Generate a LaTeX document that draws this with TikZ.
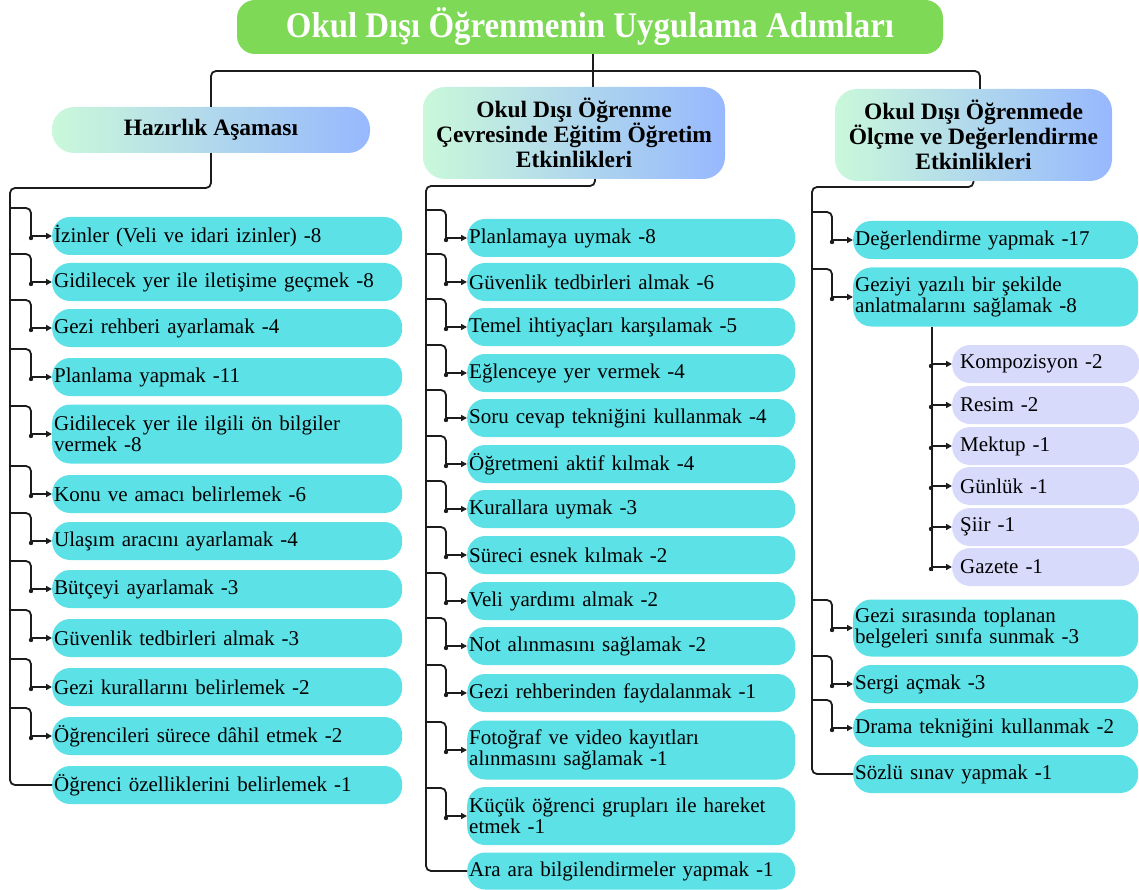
\documentclass[tikz,border=0pt]{standalone}
\usepackage{fontspec}
\setmainfont{Liberation Serif}
\usetikzlibrary{arrows.meta,calc}
\definecolor{titlegreen}{HTML}{7ED957}
\definecolor{itemcyan}{HTML}{5CE1E6}
\definecolor{sublav}{HTML}{D7DAFB}
\definecolor{gradL}{HTML}{CAF8DA}
\definecolor{gradR}{HTML}{97B8FE}
\definecolor{lineblk}{HTML}{1C1C1C}
\tikzset{
  conn/.style={draw=lineblk, line width=1.8pt},
  arr/.style={conn, -{Triangle[length=6pt,width=6pt]}},
  basebox/.style={rounded corners=18pt, anchor=west, inner xsep=2pt, inner ysep=0pt, align=left,
    font=\fontsize{21}{21.5}\selectfont, minimum height=38pt},
  litem/.style={basebox, fill=itemcyan, text width=346pt},
  mitem/.style={basebox, fill=itemcyan, text width=324pt},
  ritem/.style={basebox, fill=itemcyan, text width=281pt},
  sitem/.style={basebox, fill=sublav, inner xsep=8pt, text width=171pt},
  hdr/.style={rounded corners=22pt, left color=gradL, right color=gradR, align=center,
    font=\bfseries\fontsize{23.5}{25}\selectfont, inner sep=0pt},
  titlebox/.style={rounded corners=18pt, fill=titlegreen, text=white, inner sep=0pt,
    font=\bfseries\fontsize{36}{40}\selectfont, minimum width=706pt, minimum height=54pt},
}
\begin{document}
\begin{tikzpicture}[x=1pt,y=-1pt]
\useasboundingbox (0,0) rectangle (1139,890);
% title and headers
\node[titlebox] (title) at (590,27) {\scalebox{0.914}[1]{Okul Dışı Öğrenmenin Uygulama Adımları}};
\node[hdr, minimum width=318pt, minimum height=46pt] (hz) at (211,130) {Hazırlık Aşaması};
\node[hdr, minimum width=302pt, minimum height=92pt] (mid) at (574,133) {Okul Dışı Öğrenme\\Çevresinde Eğitim Öğretim\\Etkinlikleri};
\node[hdr, minimum width=277pt, minimum height=92pt] (rt) at (973.5,135) {Okul Dışı Öğrenmede\\Ölçme ve Değerlendirme\\Etkinlikleri};
% left column
\node[litem] (l1) at (52,236) {İzinler (Veli ve idari izinler) -8};
\node[litem] (l2) at (52,282) {Gidilecek yer ile iletişime geçmek -8};
\node[litem] (l3) at (52,328) {Gezi rehberi ayarlamak -4};
\node[litem] (l4) at (52,377) {Planlama yapmak -11};
\node[litem, minimum height=59pt] (l5) at (52,434) {Gidilecek yer ile ilgili ön bilgiler\\vermek -8};
\node[litem] (l6) at (52,494) {Konu ve amacı belirlemek -6};
\node[litem] (l7) at (52,541) {Ulaşım aracını ayarlamak -4};
\node[litem] (l8) at (52,589) {Bütçeyi ayarlamak -3};
\node[litem] (l9) at (52,638) {Güvenlik tedbirleri almak -3};
\node[litem] (l10) at (52,687) {Gezi kurallarını belirlemek -2};
\node[litem] (l11) at (52,736) {Öğrencileri sürece dâhil etmek -2};
\node[litem] (l12) at (52,785) {Öğrenci özelliklerini belirlemek -1};
% middle column
\node[mitem] (m1) at (467,238) {Planlamaya uymak -8};
\node[mitem] (m2) at (467,282) {Güvenlik tedbirleri almak -6};
\node[mitem] (m3) at (467,327) {Temel ihtiyaçları karşılamak -5};
\node[mitem] (m4) at (467,373) {Eğlenceye yer vermek -4};
\node[mitem] (m5) at (467,418) {Soru cevap tekniğini kullanmak -4};
\node[mitem] (m6) at (467,464) {Öğretmeni aktif kılmak -4};
\node[mitem] (m7) at (467,509) {Kurallara uymak -3};
\node[mitem] (m8) at (467,555) {Süreci esnek kılmak -2};
\node[mitem] (m9) at (467,601) {Veli yardımı almak -2};
\node[mitem] (m10) at (467,646) {Not alınmasını sağlamak -2};
\node[mitem] (m11) at (467,693) {Gezi rehberinden faydalanmak -1};
\node[mitem, minimum height=59pt] (m12) at (467,750) {Fotoğraf ve video kayıtları\\alınmasını sağlamak -1};
\node[mitem, minimum height=58pt] (m13) at (467,816) {Küçük öğrenci grupları ile hareket\\etmek -1};
\node[mitem, minimum height=37pt] (m14) at (467,871) {Ara ara bilgilendirmeler yapmak -1};
% right column
\node[ritem] (r1) at (853,240) {Değerlendirme yapmak -17};
\node[ritem, minimum height=59pt] (r2) at (853,297) {Geziyi yazılı bir şekilde\\anlatmalarını sağlamak -8};
\node[sitem] (s1) at (952,364) {Kompozisyon -2};
\node[sitem] (s2) at (952,405) {Resim -2};
\node[sitem] (s3) at (952,446) {Mektup -1};
\node[sitem] (s4) at (952,486) {Günlük -1};
\node[sitem] (s5) at (952,527) {Şiir -1};
\node[sitem] (s6) at (952,567) {Gazete -1};
\node[ritem, minimum height=57pt] (r3) at (853,628) {Gezi sırasında toplanan\\belgeleri sınıfa sunmak -3};
\node[ritem] (r4) at (853,684) {Sergi açmak -3};
\node[ritem] (r5) at (853,728) {Drama tekniğini kullanmak -2};
\node[ritem] (r6) at (853,774) {Sözlü sınav yapmak -1};
% top connectors
\coordinate (tj) at (593,71);
\draw[conn] (title.south -| tj) -- (tj);
\draw[conn] (tj) -- (tj |- mid.north);
\draw[conn, rounded corners=5pt] (tj) -| (hz.north);
\draw[conn, rounded corners=5pt] (tj) -| ([xshift=6.5pt]rt.north);
% trunks
\coordinate (lt) at (10,188);
\coordinate (mt) at (426,186);
\coordinate (rtk) at (812,187);
\draw[conn, rounded corners=5pt] (hz.south) |- (lt) |- (l12.west);
\draw[conn, rounded corners=5pt] ([xshift=21pt]mid.south) |- (mt) |- (m14.west);
\draw[conn, rounded corners=5pt] (rt.south) |- (rtk) |- (r6.west);
% branches
\foreach \n in {l1,l2,l3,l4,l5,l6,l7,l8,l9,l10,l11,m1,m2,m3,m4,m5,m6,m7,m8,m9,m10,m11,m12,m13,r1,r2,r3,r4,r5} {
  \draw[conn, rounded corners=5pt] ($(\n.west)+(-42,-28)$) -| ($(\n.west)+(-21,1)$);
  \draw[arr] ($(\n.west)+(-21,0)$) -- (\n.west);
  \fill[lineblk] ($(\n.west)+(-21,2)$) circle (2.2pt);
}
% sub items
\coordinate (sx) at (932,0);
\draw[conn] (r2.south -| sx) -- ($(sx |- s6.west)+(0,4)$);
\foreach \n in {s1,s2,s3,s4,s5,s6} {
  \draw[arr] (sx |- \n.west) -- (\n.west);
  \fill[lineblk] ($(sx |- \n.west)+(-1,2)$) circle (2.2pt);
}
\end{tikzpicture}
\end{document}
